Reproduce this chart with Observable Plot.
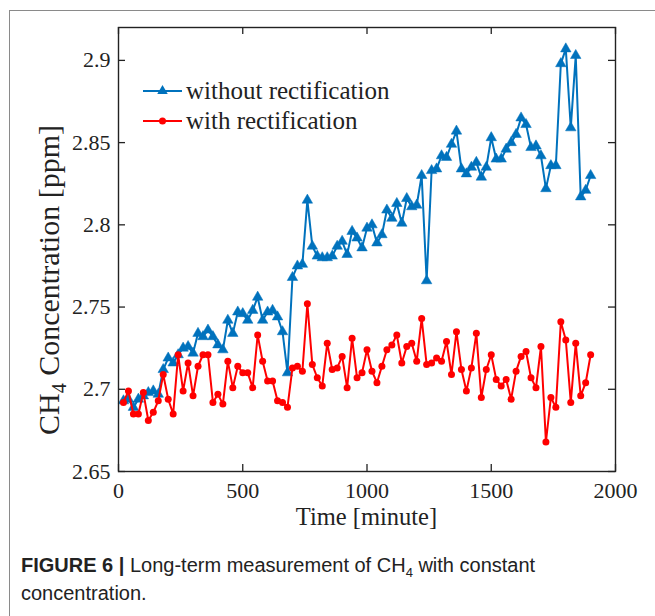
<!DOCTYPE html>
<html><head><meta charset="utf-8">
<script src="https://cdn.jsdelivr.net/npm/d3@7"></script>
<script src="https://cdn.jsdelivr.net/npm/@observablehq/plot@0.6"></script>
<style>
body{margin:0;background:#fff;}
#wrap{position:relative;width:655px;height:616px;overflow:hidden;background:#fff;}
#card{position:absolute;left:9px;top:10px;width:700px;height:700px;border-left:1px solid #8a8a8a;border-top:1px solid #8a8a8a;}
#chart{position:absolute;left:0;top:0;}
#caption{position:absolute;left:21px;top:551px;font-family:"Liberation Sans",Arial,sans-serif;font-size:20px;line-height:28px;color:#222;white-space:nowrap;}
#caption sub{font-size:13px;line-height:0;}
</style></head><body>
<div id="wrap"><div id="card"></div><div id="chart"></div>
<div id="caption"><b>FIGURE 6 |</b> Long-term measurement of CH<sub>4</sub> with constant<br>concentration.</div></div>
<script>
const time = [20,40,60,80,100,120,140,160,180,200,220,240,260,280,300,320,340,360,380,400,
420,440,460,480,500,520,540,560,580,600,620,640,660,680,700,720,740,760,780,800,
820,840,860,880,900,920,940,960,980,1000,1020,1040,1060,1080,1100,1120,1140,1160,1180,1200,
1220,1240,1260,1280,1300,1320,1340,1360,1380,1400,1420,1440,1460,1480,1500,1520,1540,1560,1580,1600,
1620,1640,1660,1680,1700,1720,1740,1760,1780,1800,1820,1840,1860,1880,1900];
const withoutRectification = [2.693,2.694,2.689,2.694,2.696,2.698,2.699,2.697,2.712,2.719,
2.716,2.721,2.725,2.726,2.722,2.734,2.732,2.736,2.732,2.727,
2.724,2.742,2.734,2.747,2.746,2.742,2.748,2.756,2.742,2.747,
2.748,2.744,2.735,2.710,2.768,2.775,2.776,2.815,2.787,2.781,
2.780,2.780,2.781,2.787,2.790,2.782,2.796,2.792,2.786,2.798,
2.800,2.789,2.794,2.809,2.804,2.813,2.801,2.816,2.811,2.812,
2.830,2.766,2.833,2.834,2.842,2.841,2.849,2.857,2.834,2.831,
2.835,2.838,2.829,2.835,2.853,2.840,2.840,2.846,2.850,2.855,
2.865,2.861,2.847,2.848,2.842,2.822,2.836,2.836,2.898,2.907,
2.859,2.903,2.817,2.821,2.830];
const withRectification = [2.692,2.699,2.685,2.685,2.698,2.681,2.686,2.693,2.709,2.694,
2.685,2.721,2.699,2.716,2.696,2.714,2.721,2.721,2.692,2.697,
2.691,2.717,2.701,2.714,2.710,2.710,2.701,2.733,2.717,2.705,
2.705,2.693,2.692,2.689,2.713,2.714,2.711,2.752,2.715,2.707,
2.702,2.728,2.712,2.713,2.720,2.701,2.731,2.707,2.710,2.724,
2.711,2.704,2.714,2.724,2.727,2.733,2.716,2.726,2.728,2.717,
2.743,2.715,2.716,2.719,2.717,2.729,2.709,2.735,2.712,2.699,
2.713,2.734,2.695,2.712,2.721,2.706,2.702,2.706,2.694,2.711,
2.720,2.723,2.707,2.701,2.726,2.668,2.695,2.689,2.741,2.730,
2.692,2.728,2.696,2.704,2.721];
const xTicks = [0,500,1000,1500,2000];
const yTicks = [2.65,2.7,2.75,2.8,2.85,2.9];
const seriesNames = ["without rectification","with rectification"];
const seriesColors = ["#0072BD","#FF0000"];
const xLabel = "Time [minute]";

const blue = time.map((t,i)=>({t, v: withoutRectification[i]}));
const red = time.map((t,i)=>({t, v: withRectification[i]}));

const W = 655, H = 540, mL = 118, mR = 40, mT = 27, mB = H - 471;
const iw = W - mL - mR, ih = H - mT - mB;
const serif = '"Liberation Serif","Times New Roman",serif';
const axisColor = "#222";

const svg = Plot.plot({
  width: W, height: H, marginLeft: mL, marginRight: mR, marginTop: mT, marginBottom: mB,
  style: {fontFamily: serif, fontSize: "22px", color: axisColor, background: "transparent", overflow: "visible"},
  x: {domain: [0, 2000]},
  y: {domain: [2.65, 2.92]},
  marks: [
    Plot.axisX(xTicks, {tickSize: 0, tickPadding: 11, label: null, fontSize: 22, fontFamily: serif, tickFormat: d => String(d)}),
    Plot.axisY(yTicks, {tickSize: 0, tickPadding: 8, label: null, fontSize: 22, fontFamily: serif, tickFormat: d => String(d)}),
    Plot.tickX(xTicks, {x: d => d, insetTop: ih - 7, stroke: axisColor, strokeWidth: 1.3}),
    Plot.tickX(xTicks, {x: d => d, insetBottom: ih - 7, stroke: axisColor, strokeWidth: 1.3}),
    Plot.tickY(yTicks, {y: d => d, insetRight: iw - 7, stroke: axisColor, strokeWidth: 1.3}),
    Plot.tickY(yTicks, {y: d => d, insetLeft: iw - 7, stroke: axisColor, strokeWidth: 1.3}),
    Plot.line(blue, {x: "t", y: "v", stroke: seriesColors[0], strokeWidth: 2}),
    Plot.dot(blue, {x: "t", y: "v", symbol: "triangle", r: 3.9, fill: seriesColors[0], stroke: seriesColors[0], strokeWidth: 0.5}),
    Plot.line(red, {x: "t", y: "v", stroke: seriesColors[1], strokeWidth: 2}),
    Plot.dot(red, {x: "t", y: "v", r: 3.5, fill: seriesColors[1], stroke: "none"}),
    Plot.frame({stroke: axisColor, strokeWidth: 1.4})
  ]
});

const s = d3.select(svg);
s.selectAll("text").attr("font-family", serif).style("font-family", serif).style("font-size", "22px");
// x label
s.append("text").attr("x", mL + iw / 2).attr("y", 525).style("text-anchor", "middle")
  .style("font-family", serif).style("font-size", "24.5px").attr("fill", axisColor).text(xLabel);
// y label with subscript
const yl = s.append("text").attr("transform", `translate(59,280) rotate(-90)`)
  .style("text-anchor", "middle").style("font-family", serif).style("font-size", "30px").attr("fill", axisColor);
yl.append("tspan").text("CH");
yl.append("tspan").style("font-size", "20px").attr("dy", 7).text("4");
yl.append("tspan").attr("dy", -7).text(" Concentration [ppm]");
// legend
const leg = s.append("g");
const legY = [91, 121];
seriesNames.forEach((name, i) => {
  const g = leg.append("g");
  g.append("line").attr("x1", 143).attr("x2", 182).attr("y1", legY[i]).attr("y2", legY[i])
    .attr("stroke", seriesColors[i]).attr("stroke-width", 2);
  if (i === 0) {
    g.append("path").attr("d", d3.symbol(d3.symbolTriangle, Math.PI * 3.9 * 3.9)())
      .attr("transform", `translate(162.5,${legY[i]})`).attr("fill", seriesColors[i]);
  } else {
    g.append("circle").attr("cx", 162.5).attr("cy", legY[i]).attr("r", 3.5).attr("fill", seriesColors[i]);
  }
  g.append("text").attr("x", 186).attr("y", legY[i] + 8).style("text-anchor", "start")
    .style("font-family", serif).style("font-size", "25px").attr("fill", axisColor).text(name);
});
document.getElementById("chart").appendChild(svg);
</script>
</body></html>
